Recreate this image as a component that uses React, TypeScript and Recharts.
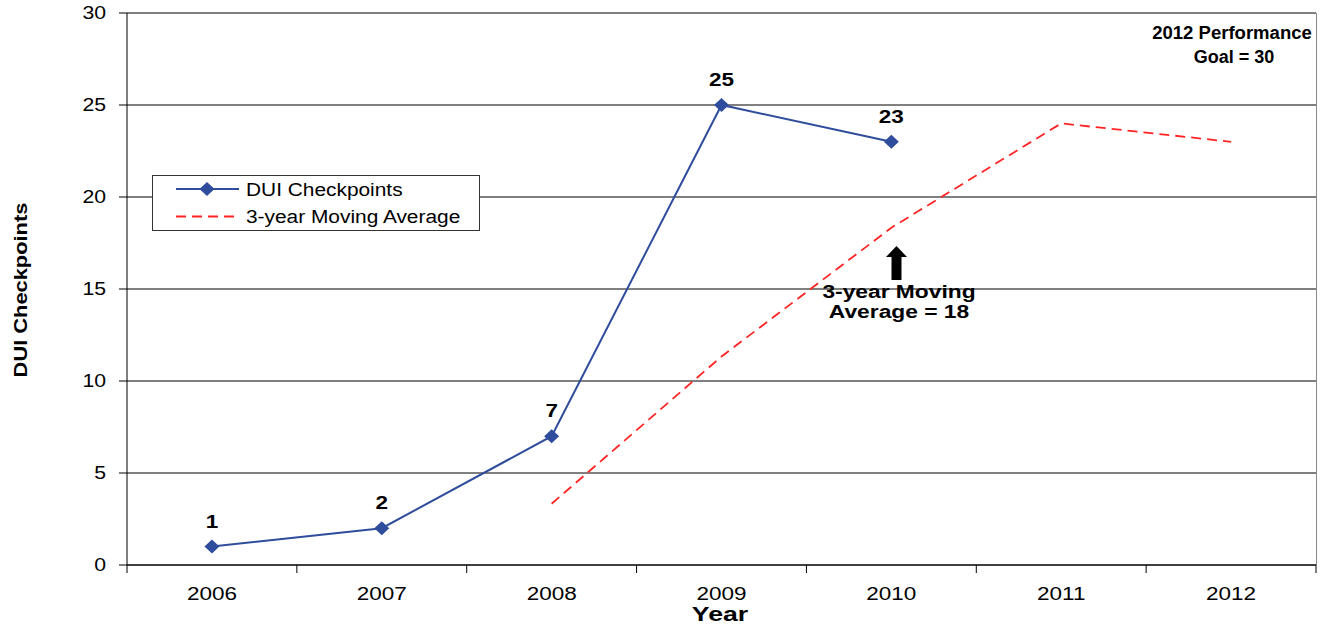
import React from "react";
import { LineChart, Line, XAxis, YAxis, CartesianGrid, Legend } from "recharts";

const YEARS = ["2006", "2007", "2008", "2009", "2010", "2011", "2012"];
const CHECKPOINTS = [1, 2, 7, 25, 23, null, null];
const MOVING_AVG = [null, null, 3.33, 11.33, 18.33, 24, 23];
const Y_TICKS = [0, 5, 10, 15, 20, 25, 30];
const SERIES_NAMES = ["DUI Checkpoints", "3-year Moving Average"];

const data = YEARS.map((year, i) => ({
  year,
  dui: CHECKPOINTS[i],
  avg: MOVING_AVG[i],
}));

const FONT = '"Liberation Sans", Arial, Helvetica, sans-serif';
const BLUE = "#2f4d9c";
const RED = "#ff2424";
const W = 1326;
const H = 627;

function diamond(cx: number, cy: number, rx: number, ry: number) {
  return `${cx},${cy - ry} ${cx + rx},${cy} ${cx},${cy + ry} ${cx - rx},${cy}`;
}

function XTick(props: any) {
  const { x, y, payload, index } = props;
  const half = payload?.offset || 85;
  const axisY = y - 8;
  const last = index === YEARS.length - 1;
  return (
    <g>
      <line x1={x - half} x2={x - half} y1={axisY} y2={axisY + 8} stroke="#000" />
      {last && (
        <line x1={x + half} x2={x + half} y1={axisY} y2={axisY + 8} stroke="#000" />
      )}
      <text
        transform={`translate(${x} ${axisY + 35}) scale(1.25 1)`}
        textAnchor="middle"
        fontSize={18}
        fontFamily={FONT}
        fill="#000"
      >
        {payload.value}
      </text>
    </g>
  );
}

function YTick(props: any) {
  const { x, y, payload } = props;
  return (
    <text
      transform={`translate(${x} ${y + 6}) scale(1.18 1)`}
      textAnchor="end"
      fontSize={18}
      fontFamily={FONT}
      fill="#000"
    >
      {payload.value}
    </text>
  );
}

function DiamondDot(props: any) {
  const { cx, cy, payload, index } = props;
  if (cx == null || cy == null || payload?.dui == null) return <g key={`d-${index}`} />;
  return (
    <g key={`d-${index}`}>
      <polygon points={diamond(cx, cy, 7.5, 7)} fill={BLUE} />
      <text
        transform={`translate(${cx} ${cy - 19}) scale(1.25 1)`}
        textAnchor="middle"
        fontSize={18}
        fontWeight="bold"
        fontFamily={FONT}
        fill="#000"
      >
        {payload.dui}
      </text>
    </g>
  );
}

function LegendBox() {
  return (
    <svg width={328} height={56} style={{ display: "block" }}>
      <rect x={0.5} y={0.5} width={327} height={55} fill="#fff" stroke="#333" />
      <line x1={24} x2={87} y1={14} y2={14} stroke={BLUE} strokeWidth={2} />
      <polygon points={diamond(55, 14, 7.5, 7)} fill={BLUE} />
      <text
        transform="translate(94 20.5) scale(1.16 1)"
        fontSize={18}
        fontFamily={FONT}
        fill="#000"
      >
        {SERIES_NAMES[0]}
      </text>
      <line
        x1={24}
        x2={87}
        y1={41.5}
        y2={41.5}
        stroke={RED}
        strokeWidth={2}
        strokeDasharray="10 6"
      />
      <text
        transform="translate(94 47.5) scale(1.16 1)"
        fontSize={18}
        fontFamily={FONT}
        fill="#000"
      >
        {SERIES_NAMES[1]}
      </text>
    </svg>
  );
}

export default function App() {
  return (
    <div
      style={{
        position: "absolute",
        left: 0,
        top: 0,
        width: W,
        height: H,
        background: "#fff",
      }}
    >
      <LineChart
        width={W}
        height={H}
        data={data}
        margin={{ top: 13, right: 10, bottom: 0, left: 0 }}
      >
        <CartesianGrid vertical={false} stroke="#000" strokeWidth={1} />
        <XAxis
          dataKey="year"
          type="category"
          scale="band"
          height={62}
          axisLine={{ stroke: "#000" }}
          tickLine={false}
          tickSize={8}
          tickMargin={0}
          interval={0}
          tick={<XTick />}
        />
        <YAxis
          width={127}
          domain={[0, 30]}
          ticks={Y_TICKS}
          interval={0}
          axisLine={{ stroke: "#000" }}
          tickLine={{ stroke: "#000" }}
          tickSize={8}
          tickMargin={13}
          tick={<YTick />}
        />
        <Legend
          layout="vertical"
          align="center"
          verticalAlign="middle"
          content={() => <LegendBox />}
          wrapperStyle={{ left: 152, top: 175, width: 328, height: 56 }}
        />
        <Line
          type="linear"
          dataKey="avg"
          name={SERIES_NAMES[1]}
          stroke={RED}
          strokeWidth={1.8}
          strokeDasharray="10 6"
          dot={false}
          activeDot={false}
          isAnimationActive={false}
        />
        <Line
          type="linear"
          dataKey="dui"
          name={SERIES_NAMES[0]}
          stroke={BLUE}
          strokeWidth={2}
          dot={DiamondDot}
          activeDot={false}
          isAnimationActive={false}
        />
      </LineChart>

      <svg
        width={W}
        height={H}
        style={{ position: "absolute", left: 0, top: 0, pointerEvents: "none" }}
      >
        <line x1={1316.5} x2={1316.5} y1={13} y2={565} stroke="#8a8a8a" />
        <text
          transform="translate(27 290) rotate(-90) scale(1.15 1)"
          textAnchor="middle"
          fontSize={19}
          fontWeight="bold"
          fontFamily={FONT}
          fill="#000"
        >
          DUI Checkpoints
        </text>
        <text
          transform="translate(720 621) scale(1.27 1)"
          textAnchor="middle"
          fontSize={21}
          fontWeight="bold"
          fontFamily={FONT}
          fill="#000"
        >
          Year
        </text>
        <text
          transform="translate(1232 39) scale(1.03 1)"
          textAnchor="middle"
          fontSize={18}
          fontWeight="bold"
          fontFamily={FONT}
          fill="#000"
        >
          2012 Performance
        </text>
        <text
          transform="translate(1234 63)"
          textAnchor="middle"
          fontSize={18}
          fontWeight="bold"
          fontFamily={FONT}
          fill="#000"
        >
          Goal = 30
        </text>
        <polygon
          points="896.5,246 907,257 901.5,257 901.5,280 891.5,280 891.5,257 886,257"
          fill="#000"
        />
        <text
          transform="translate(899 297.5) scale(1.2 1)"
          textAnchor="middle"
          fontSize={19}
          fontWeight="bold"
          fontFamily={FONT}
          fill="#000"
        >
          3-year Moving
        </text>
        <text
          transform="translate(899 318) scale(1.2 1)"
          textAnchor="middle"
          fontSize={19}
          fontWeight="bold"
          fontFamily={FONT}
          fill="#000"
        >
          Average = 18
        </text>
      </svg>
    </div>
  );
}
